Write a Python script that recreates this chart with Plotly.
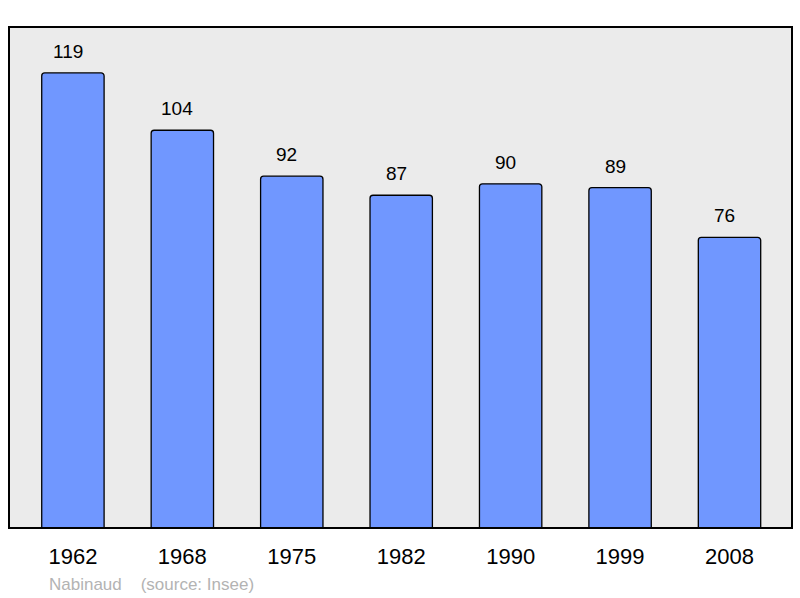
import plotly.graph_objects as go

years = ["1962", "1968", "1975", "1982", "1990", "1999", "2008"]
population = [119, 104, 92, 87, 90, 89, 76]
footer_text = "Nabinaud\u00a0\u00a0\u00a0\u00a0(source: Insee)"

FONT = "Liberation Sans, Arial, sans-serif"

fig = go.Figure()
fig.add_trace(go.Bar(
    x=years, y=population,
    width=0.57,
    marker=dict(color="#7097ff", line=dict(color="#000000", width=1.3), cornerradius=3),
    hoverinfo="skip",
))

for i, v in enumerate(population):
    fig.add_annotation(x=i, y=v, text=str(v), showarrow=False,
                       yanchor="bottom", yshift=9, xshift=-5,
                       font=dict(family=FONT, size=19, color="#000000"))

fig.add_annotation(xref="paper", yref="paper", x=(47 - 9) / 783, y=-(584 - 528) / 501,
                   xanchor="left", yanchor="middle", text=footer_text, showarrow=False,
                   font=dict(family=FONT, size=17, color="#b3b3b3"))

fig.add_shape(type="rect", xref="paper", yref="paper", x0=0, y0=0, x1=1, y1=1,
              line=dict(color="#000000", width=2), layer="above")

fig.update_layout(
    width=800, height=598,
    margin=dict(l=9, r=8, t=27, b=70),
    paper_bgcolor="#ffffff",
    plot_bgcolor="#ebebeb",
    showlegend=False,
    bargap=0.43,
    xaxis=dict(type="category", range=[-0.584, 6.571], showgrid=False, zeroline=False,
               ticks="", tickfont=dict(family=FONT, size=22, color="#000000"),
               ticklabelstandoff=13),
    yaxis=dict(range=[0, 131], showgrid=False, zeroline=False, showticklabels=False, ticks=""),
)

fig.write_html("out.html", config={"displayModeBar": False},
               post_script="document.body.style.margin='0';")
